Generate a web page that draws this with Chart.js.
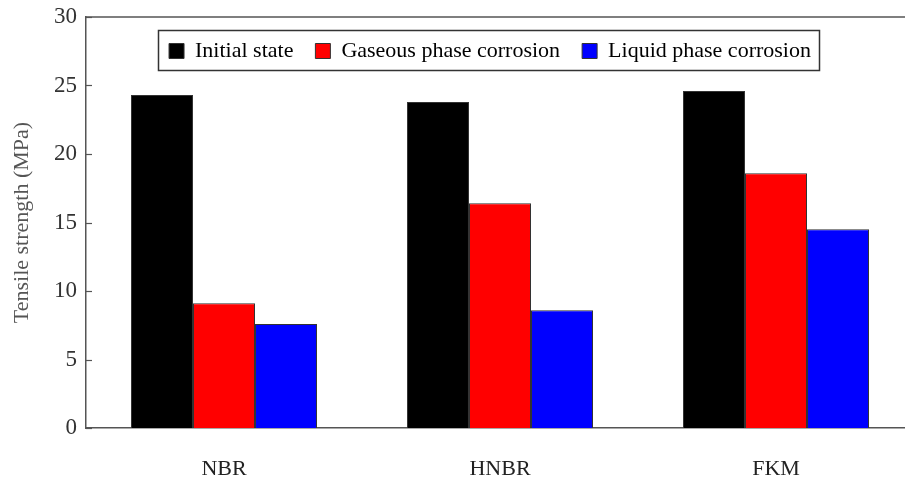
<!DOCTYPE html>
<html>
<head>
<meta charset="utf-8">
<script src="https://cdn.jsdelivr.net/npm/chart.js@4"></script>
<style>
html,body{margin:0;padding:0;background:#fff;overflow:hidden;width:905px;height:484px;}
#wrap{position:absolute;left:0;top:0;width:914px;height:484px;}
</style>
</head>
<body>
<div id="wrap"><canvas id="c" width="914" height="484"></canvas></div>
<script>
const categories = ["NBR", "HNBR", "FKM"];
const initialState = [24.3, 23.8, 24.6];
const gaseousPhase = [9.1, 16.4, 18.6];
const liquidPhase = [7.6, 8.6, 14.5];
const yTicks = [0, 5, 10, 15, 20, 25, 30];

const serif = "'Liberation Serif', 'Times New Roman', serif";
const legendFrame = {left: 158.5, top: 30.5, width: 661, height: 40};

const legendInside = {
  id: 'legendInside',
  beforeUpdate(chart) {
    const lg = chart.legend;
    if (lg && !lg._patched) {
      const orig = lg.fit.bind(lg);
      lg.fit = function () { orig(); this._realH = this.height; this.height = 0; };
      lg._patched = true;
    }
  },
  afterLayout(chart) {
    const lg = chart.legend;
    if (!lg) return;
    lg.left = 120; lg.right = 860; lg.width = lg.right - lg.left;
    lg.top = 18; lg.height = 60; lg.bottom = lg.top + lg.height;
  },
  afterDraw(chart) {
    const ctx = chart.ctx;
    const a = chart.chartArea;
    const y = chart.scales.y;
    ctx.save();
    ctx.strokeStyle = '#555';
    ctx.lineWidth = 1.5;
    ctx.beginPath();
    ctx.moveTo(a.left, a.top);
    ctx.lineTo(a.right, a.top);
    ctx.stroke();
    ctx.lineWidth = 1.2;
    yTicks.forEach(v => {
      const py = Math.round(y.getPixelForValue(v)) + 0.5;
      ctx.beginPath();
      ctx.moveTo(a.left, py);
      ctx.lineTo(a.left + 6, py);
      ctx.stroke();
    });
    ctx.strokeStyle = '#333';
    ctx.lineWidth = 1.5;
    ctx.strokeRect(legendFrame.left, legendFrame.top, legendFrame.width, legendFrame.height);
    ctx.restore();
  }
};

new Chart(document.getElementById('c'), {
  type: 'bar',
  data: {
    labels: categories,
    datasets: [
      {label: 'Initial state', data: initialState, backgroundColor: '#000000', borderColor: '#333', borderWidth: 1},
      {label: 'Gaseous phase corrosion', data: gaseousPhase, backgroundColor: '#ff0000', borderColor: '#333', borderWidth: 1},
      {label: 'Liquid phase corrosion', data: liquidPhase, backgroundColor: '#0000ff', borderColor: '#333', borderWidth: 1}
    ]
  },
  options: {
    responsive: false,
    animation: false,
    devicePixelRatio: 1,
    layout: {padding: {top: 17, right: 0, bottom: 2, left: 0}},
    datasets: {bar: {categoryPercentage: 0.674, barPercentage: 1}},
    plugins: {
      legend: {
        position: 'top',
        align: 'center',
        labels: {
          boxWidth: 15, boxHeight: 15, padding: 22,
          color: '#000',
          font: {family: serif, size: 22}
        }
      },
      tooltip: {enabled: false}
    },
    scales: {
      x: {
        afterFit(scale) { scale.height = 54; },
        grid: {display: false, drawTicks: false},
        border: {display: true, color: '#555', width: 1.5},
        ticks: {color: '#222', font: {family: serif, size: 22}, padding: 28}
      },
      y: {
        min: 0, max: 30,
        afterBuildTicks(scale) { scale.ticks = yTicks.map(v => ({value: v})); },
        afterFit(scale) { scale.width = 86; scale.paddingTop = 0; scale.paddingBottom = 0; },
        grid: {display: false, drawTicks: false},
        border: {display: true, color: '#555', width: 1.5},
        ticks: {color: '#333', font: {family: serif, size: 23}, padding: 9},
        title: {display: true, text: 'Tensile strength (MPa)', color: '#555', font: {family: serif, size: 22}, padding: {top: 9, bottom: 0}}
      }
    }
  },
  plugins: [legendInside]
});
</script>
</body>
</html>
